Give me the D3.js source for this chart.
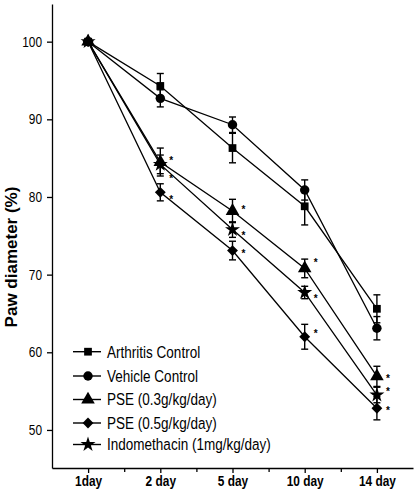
<!DOCTYPE html>
<html><head><meta charset="utf-8">
<script src="https://cdn.jsdelivr.net/npm/d3@7"></script>
<style>
body{margin:0;background:#fff;}
svg{display:block;}
text{font-family:"Liberation Sans",Arial,sans-serif;}
</style></head><body>
<svg id="chart" width="417" height="500"></svg>
<script>
const categories = ["1day", "2 day", "5 day", "10 day", "14 day"];
const seriesNames = ["Arthritis Control", "Vehicle Control", "PSE (0.3g/kg/day)", "PSE (0.5g/kg/day)", "Indomethacin (1mg/kg/day)"];
const arthritisControl = [100, 94.3, 86.3, 78.8, 65.6];
const arthritisErr     = [0.3, 1.6, 1.9, 2.4, 1.8];
const vehicleControl   = [100, 92.7, 89.3, 80.9, 63.1];
const vehicleErr       = [0.3, 1.1, 1.0, 1.3, 1.5];
const pse03            = [100, 84.5, 78.2, 70.8, 56.9];
const pse03Err         = [0.3, 1.8, 1.5, 1.2, 1.3];
const pse05            = [100, 80.6, 73.1, 62.0, 52.8];
const pse05Err         = [0.3, 1.1, 1.2, 1.6, 1.5];
const indomethacin     = [100, 84.2, 75.8, 67.7, 54.5];
const indomethacinErr  = [0.3, 1.2, 1.0, 0.8, 1.0];
const significant = [false, true, true, true, true];
const yTicks = [50, 60, 70, 80, 90, 100];

// styling / layout (not data)
const symbols = [d3.symbolSquare, d3.symbolCircle, d3.symbolTriangle, d3.symbolDiamond2, d3.symbolStar];
const symbolSizes = [60, 70, 80, 75, 70];
// vertical pixel offsets of the significance asterisks, per series and time point
const starOffsets = {2: [0, -4, -4, -8, 0], 3: [0, 5, 0, -6, 0], 4: [0, 12, 3, 4, -6]};
const NARROW = 0.82;

const series = [
  {name: seriesNames[0], values: arthritisControl, err: arthritisErr, sig: false},
  {name: seriesNames[1], values: vehicleControl, err: vehicleErr, sig: false},
  {name: seriesNames[2], values: pse03, err: pse03Err, sig: true},
  {name: seriesNames[3], values: pse05, err: pse05Err, sig: true},
  {name: seriesNames[4], values: indomethacin, err: indomethacinErr, sig: true}
];

const svg = d3.select("#chart");
const mLeft = 52, mRight = 413, mTop = 4, mBottom = 468;
const x = d3.scaleLinear().domain([0.5, 5.5]).range([mLeft, mRight]);
const y = d3.scaleLinear().domain([45.1, 104.85]).range([mBottom, mTop]);

// axes
const yAxis = d3.axisLeft(y).tickValues(yTicks).tickSize(5).tickPadding(5).tickSizeOuter(0);
const gy = svg.append("g").attr("transform", `translate(${mLeft},0)`).call(yAxis);
gy.select(".domain").attr("stroke", "#000").attr("stroke-width", 1.3);
gy.selectAll(".tick line").attr("stroke-width", 1.3);
gy.selectAll("text").attr("font-family", "Liberation Sans, Arial, sans-serif").attr("font-size", 14.5).attr("fill", "#000")
  .attr("x", -10 / NARROW).attr("transform", `scale(${NARROW},1)`);

const xAxis = d3.axisBottom(x).tickValues([1,2,3,4,5]).tickFormat((d) => categories[d-1]).tickSize(5).tickPadding(3).tickSizeOuter(0);
const gx = svg.append("g").attr("transform", `translate(0,${mBottom})`).call(xAxis);
gx.select(".domain").attr("stroke", "#000").attr("stroke-width", 1.3);
gx.selectAll(".tick line").attr("stroke-width", 1.3);
gx.selectAll("text").attr("font-family", "Liberation Sans, Arial, sans-serif").attr("font-size", 14.5).attr("font-weight", "bold").attr("fill", "#000")
  .attr("transform", `scale(${NARROW},1)`);
const xMinor = d3.axisBottom(x).tickValues([1.5,2.5,3.5,4.5]).tickSize(4).tickFormat("").tickSizeOuter(0);
const gxm = svg.append("g").attr("transform", `translate(0,${mBottom})`).call(xMinor);
gxm.select(".domain").remove();
gxm.selectAll(".tick line").attr("stroke-width", 1.3);

// y label
svg.append("text")
  .attr("transform", `translate(17,257) rotate(-90)`)
  .attr("text-anchor", "middle")
  .attr("font-family", "DejaVu Sans, sans-serif")
  .attr("font-weight", "bold").attr("font-size", 17)
  .text("Paw diameter (%)");

const line = d3.line().x((d, i) => x(i + 1)).y((d) => y(d));

series.forEach((s, si) => {
  const g = svg.append("g");
  g.append("path").datum(s.values).attr("d", line).attr("fill", "none").attr("stroke", "#000").attr("stroke-width", 1.3);
  s.values.forEach((v, i) => {
    const cx = x(i + 1);
    if (i > 0) {
      const e = s.err[i];
      g.append("line").attr("x1", cx).attr("x2", cx).attr("y1", y(v - e)).attr("y2", y(v + e)).attr("stroke", "#000").attr("stroke-width", 1.4);
      [v - e, v + e].forEach((w) => g.append("line").attr("x1", cx - 3.5).attr("x2", cx + 3.5).attr("y1", y(w)).attr("y2", y(w)).attr("stroke", "#000").attr("stroke-width", 1.4));
    }
    g.append("path").attr("d", d3.symbol().type(symbols[si]).size(symbolSizes[si])()).attr("transform", `translate(${cx},${y(v)})`).attr("fill", "#000");
    if (s.sig && significant[i]) {
      const off = starOffsets[si][i];
      g.append("text").attr("x", cx + 9).attr("y", y(v) + off + 6)
        .attr("font-family", "Liberation Sans, Arial, sans-serif").attr("font-size", 10).attr("font-weight", "bold").text("*");
    }
  });
});

// legend
const legendY = [351.7, 376, 399.5, 423, 444.5];
const lg = svg.append("g");
series.forEach((s, si) => {
  const yy = legendY[si];
  lg.append("line").attr("x1", 73).attr("x2", 101).attr("y1", yy).attr("y2", yy).attr("stroke", "#000").attr("stroke-width", 1.4);
  lg.append("path").attr("d", d3.symbol().type(symbols[si]).size(symbolSizes[si])()).attr("transform", `translate(88,${yy})`).attr("fill", "#000");
  lg.append("text").attr("x", 107 / NARROW).attr("y", yy + 6).attr("transform", `scale(${NARROW},1)`)
    .attr("font-family", "Liberation Sans, Arial, sans-serif").attr("font-size", 16.5).text(s.name);
});
</script>
</body></html>
